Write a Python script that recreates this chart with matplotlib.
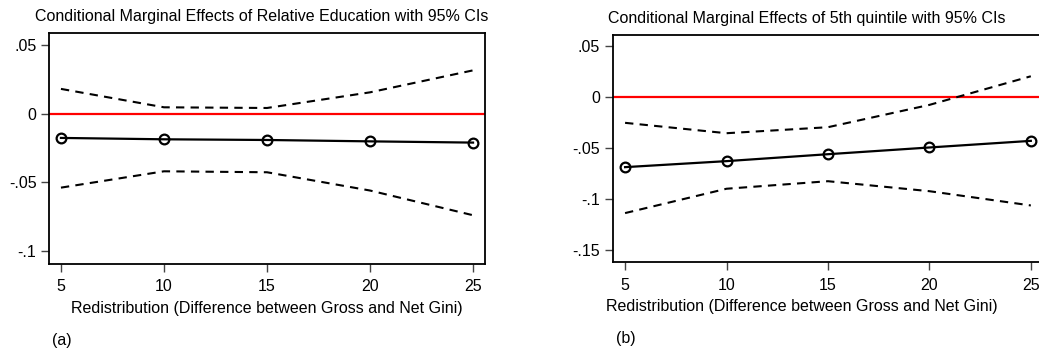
import matplotlib
matplotlib.use("Agg")
import matplotlib.pyplot as plt

plt.rcParams['font.family'] = ['Liberation Sans', 'DejaVu Sans']

W, H = 1039, 348
DPI = 100

redistribution = [5, 10, 15, 20, 25]

# Panel (a): Relative Education
edu_effect = [-0.0177, -0.0187, -0.0192, -0.0202, -0.0211]
edu_upper = [0.0180, 0.0046, 0.0041, 0.0155, 0.0315]
edu_lower = [-0.0539, -0.0420, -0.0427, -0.0560, -0.0740]
edu_yticks = [0.05, 0.0, -0.05, -0.1]
edu_yticklabels = ['.05', '0', '-.05', '-.1']

# Panel (b): 5th quintile
q5_effect = [-0.0686, -0.0627, -0.0559, -0.0493, -0.0428]
q5_upper = [-0.0251, -0.0353, -0.0294, -0.0075, 0.0206]
q5_lower = [-0.1137, -0.0898, -0.0824, -0.0922, -0.1062]
q5_yticks = [0.05, 0.0, -0.05, -0.1, -0.15]
q5_yticklabels = ['.05', '0', '-.05', '-.1', '-.15']

xticks = [5, 10, 15, 20, 25]
xlabel = 'Redistribution (Difference between Gross and Net Gini)'

fig = plt.figure(figsize=(W / DPI, H / DPI), dpi=DPI)


def px_axes(x0, y0, x1, y1):
    return fig.add_axes([x0 / W, 1 - y1 / H, (x1 - x0) / W, (y1 - y0) / H])


def draw_panel(ax, effect, upper, lower, yticks, yticklabels, ylim, xlim):
    ax.axhline(0, color='#ff0000', lw=1.6, zorder=1)
    ax.plot(redistribution, upper, color='black', lw=1.5, ls=(0, (4, 3)), zorder=2)
    ax.plot(redistribution, lower, color='black', lw=1.5, ls=(0, (4, 3)), zorder=2)
    ax.plot(redistribution, effect, color='black', lw=1.6, marker='o', ms=7,
            mfc='none', mec='black', mew=1.6, zorder=3)
    ax.set_xlim(*xlim)
    ax.set_ylim(*ylim)
    ax.set_xticks(xticks)
    ax.set_xticklabels([str(v) for v in xticks])
    ax.set_yticks(yticks)
    ax.set_yticklabels(yticklabels)
    ax.tick_params(direction='out', length=6, width=1, color='#444444',
                   labelsize=11.5, pad=3)
    ax.tick_params(axis='x', pad=5)
    for s in ax.spines.values():
        s.set_linewidth(1.3)
        s.set_color('black')


ax1 = px_axes(49, 33, 485, 264)
draw_panel(ax1, edu_effect, edu_upper, edu_lower, edu_yticks, edu_yticklabels,
           (-0.1095, 0.0587), (4.42, 25.58))

ax2 = px_axes(612.7, 34.7, 1043, 262.3)
draw_panel(ax2, q5_effect, q5_upper, q5_lower, q5_yticks, q5_yticklabels,
           (-0.162, 0.0614), (4.39, 25.6))

fs = 11.5
fig.text(262 / W, 1 - 17 / H, 'Conditional Marginal Effects of Relative Education with 95% CIs',
         ha='center', va='center', fontsize=fs)
fig.text(807 / W, 1 - 18 / H, 'Conditional Marginal Effects of 5th quintile with 95% CIs',
         ha='center', va='center', fontsize=fs)
fig.text(267 / W, 1 - 308 / H, xlabel, ha='center', va='center', fontsize=fs)
fig.text(801.5 / W, 1 - 307 / H, xlabel, ha='center', va='center', fontsize=fs)
fig.text(62 / W, 1 - 340 / H, '(a)', ha='center', va='center', fontsize=fs)
fig.text(626 / W, 1 - 339 / H, '(b)', ha='center', va='center', fontsize=fs)

fig.savefig('out.png', dpi=DPI, facecolor='white')
